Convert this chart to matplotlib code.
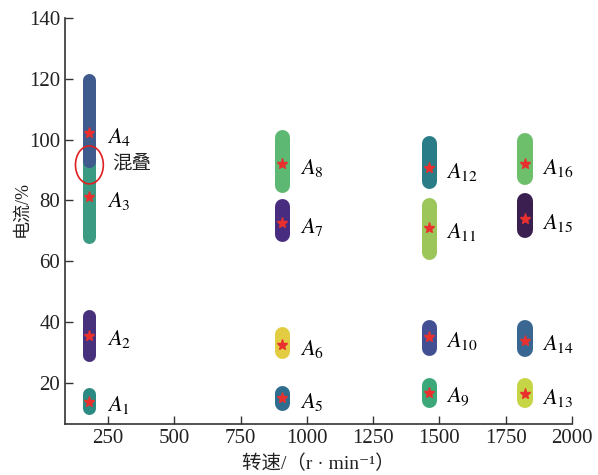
import matplotlib
matplotlib.use("Agg")
import matplotlib.pyplot as plt
from matplotlib.patches import Ellipse

# ── Données ─────────────────────────────────────
labels = [f"A{i}" for i in range(1, 17)]
speed = [180, 180, 180, 180,
         908, 908, 908, 908,
         1460, 1460, 1460, 1460,
         1822, 1822, 1822, 1822]
current_lo = [9.5, 26.9, 66.0, 90.7,
              11.0, 28.2, 66.5, 82.6,
              12.0, 28.9, 60.7, 84.0,
              11.7, 28.4, 67.6, 85.1]
current_hi = [18.4, 44.3, 95.0, 121.9,
              19.0, 38.5, 80.8, 103.2,
              21.9, 40.9, 81.0, 101.5,
              21.5, 40.7, 82.6, 102.1]
center = [13.8, 35.5, 81.1, 102.2,
          15.0, 32.5, 72.6, 92.0,
          16.6, 35.0, 70.9, 90.6,
          16.4, 33.9, 73.8, 92.0]
colors = ["#2b8a82", "#47307c", "#3a9a82", "#3f5a8c",
          "#2f6d8e", "#e2cd42", "#482c80", "#5cb872",
          "#3ca87a", "#434f93", "#9cc55a", "#2a7c87",
          "#c5d545", "#3a6791", "#3a1f50", "#6ebf6b"]
band_px = [13, 13, 13, 13, 15, 15, 15, 15,
           15, 15, 15, 15, 16, 16, 16, 16]

plt.rcParams["mathtext.fontset"] = "stix"
FAM = ["Liberation Serif", "Noto Sans CJK SC", "DejaVu Sans"]
plt.rcParams["font.family"] = FAM

DPI = 100
fig = plt.figure(figsize=(5.98, 4.75), dpi=DPI)
ax = fig.add_axes([0.1087, 0.1074, 0.8478, 0.8546])
ax.set_xlim(88, 2000)
ax.set_ylim(6.5, 140)

# pixels -> unités y pour compenser les bouts arrondis
px_per_y = 0.8546 * 475 / (140 - 6.5)

for i in range(16):
    cap = band_px[i] / 2 / px_per_y
    ax.plot([speed[i], speed[i]],
            [current_lo[i] + cap, current_hi[i] - cap],
            color=colors[i], linewidth=band_px[i] * 72 / DPI,
            solid_capstyle="round", zorder=2)

ax.plot(speed, center, linestyle="none", marker="*",
        color="#e8312f", markersize=8, zorder=3)

for i in range(16):
    ax.text(speed[i] + 65, center[i] - 1.2,
            r"$A_{%d}$" % (i + 1), fontsize=16,
            ha="left", va="center")

# zone de chevauchement
ax.add_patch(Ellipse((180, 91.7), 105, 12.5, fill=False,
                     edgecolor="#e02020", linewidth=1.2, zorder=4))
ax.text(265, 92.3, "混叠", fontsize=14, ha="left", va="center",
        family=["Noto Sans CJK SC"], color="#222222")

ax.set_xticks([250, 500, 750, 1000, 1250, 1500, 1750, 2000])
ax.set_yticks([20, 40, 60, 80, 100, 120, 140])
ax.tick_params(direction="in", labelsize=15, length=6,
               width=1, colors="#333333", labelcolor="#222222")
for s in ["top", "right"]:
    ax.spines[s].set_visible(False)
for s in ["left", "bottom"]:
    ax.spines[s].set_color("#333333")
    ax.spines[s].set_linewidth(1.2)

ax.set_xlabel("转速/（r · min⁻¹）", fontsize=14, color="#222222")
ax.set_ylabel("电流/%", fontsize=13, color="#222222")
ax.xaxis.set_label_coords(0.50, -0.075)
ax.yaxis.set_label_coords(-0.068, 0.53)

fig.savefig("out.png", dpi=DPI)
